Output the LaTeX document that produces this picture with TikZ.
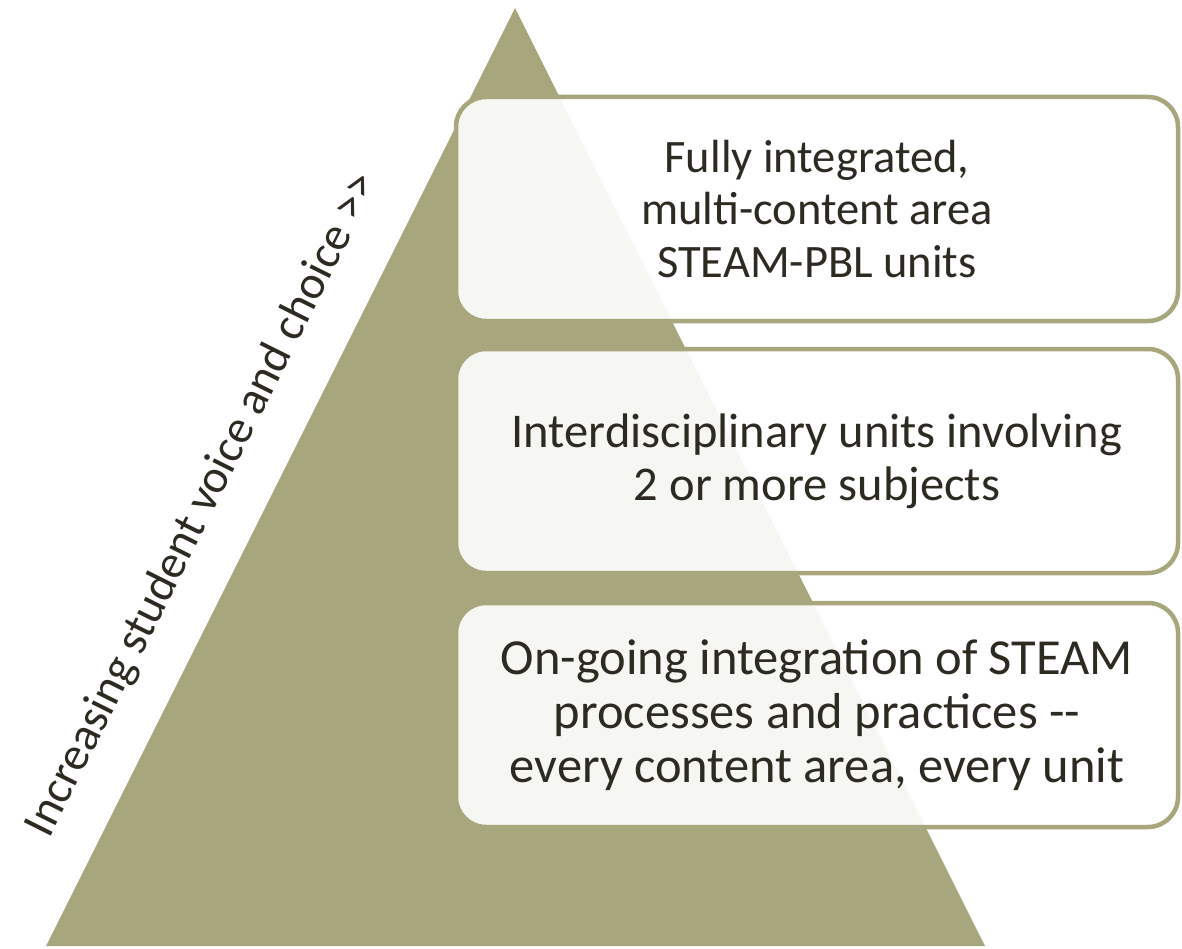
\documentclass[tikz,border=0pt]{standalone}
\usepackage{fontspec}
\setmainfont{Carlito}
\definecolor{olive}{RGB}{168,166,124}
\definecolor{ink}{RGB}{45,42,34}

\begin{document}
\begin{tikzpicture}[
    x=1pt, y=-1pt,
    level box/.style={draw=olive, line width=4.5pt, fill=white, fill opacity=0.9,
      text opacity=1, rounded corners=30pt, minimum width=722pt, minimum height=224pt,
      align=center, text=ink, font=\fontsize{46.5}{52.5}\selectfont},
    side label/.style={text=ink, font=\fontsize{47}{52}\selectfont, rotate=63.43}
]
\useasboundingbox (0,0) rectangle (1182,949);
\coordinate (apex) at (515,8);
\coordinate (baseL) at (46,946);
\coordinate (baseR) at (985,946);
\fill[olive] (apex) -- (baseR) -- (baseL) -- cycle;

\node[level box] (LT) at (817,209) {Fully integrated,\\multi-content area\\STEAM-PBL units};
\node[level box, font=\fontsize{48.5}{53}\selectfont] (LM) at (817,461)
  {Interdisciplinary units involving\\2 or more subjects};
\node[level box, font=\fontsize{50.5}{54}\selectfont] (LB) at (817,715)
  {On-going integration of STEAM\\processes and practices -{}-\\every content area, every unit};

\node[side label] (voice) at (203,505) {Increasing student voice and choice >{}>};
\end{tikzpicture}
\end{document}
